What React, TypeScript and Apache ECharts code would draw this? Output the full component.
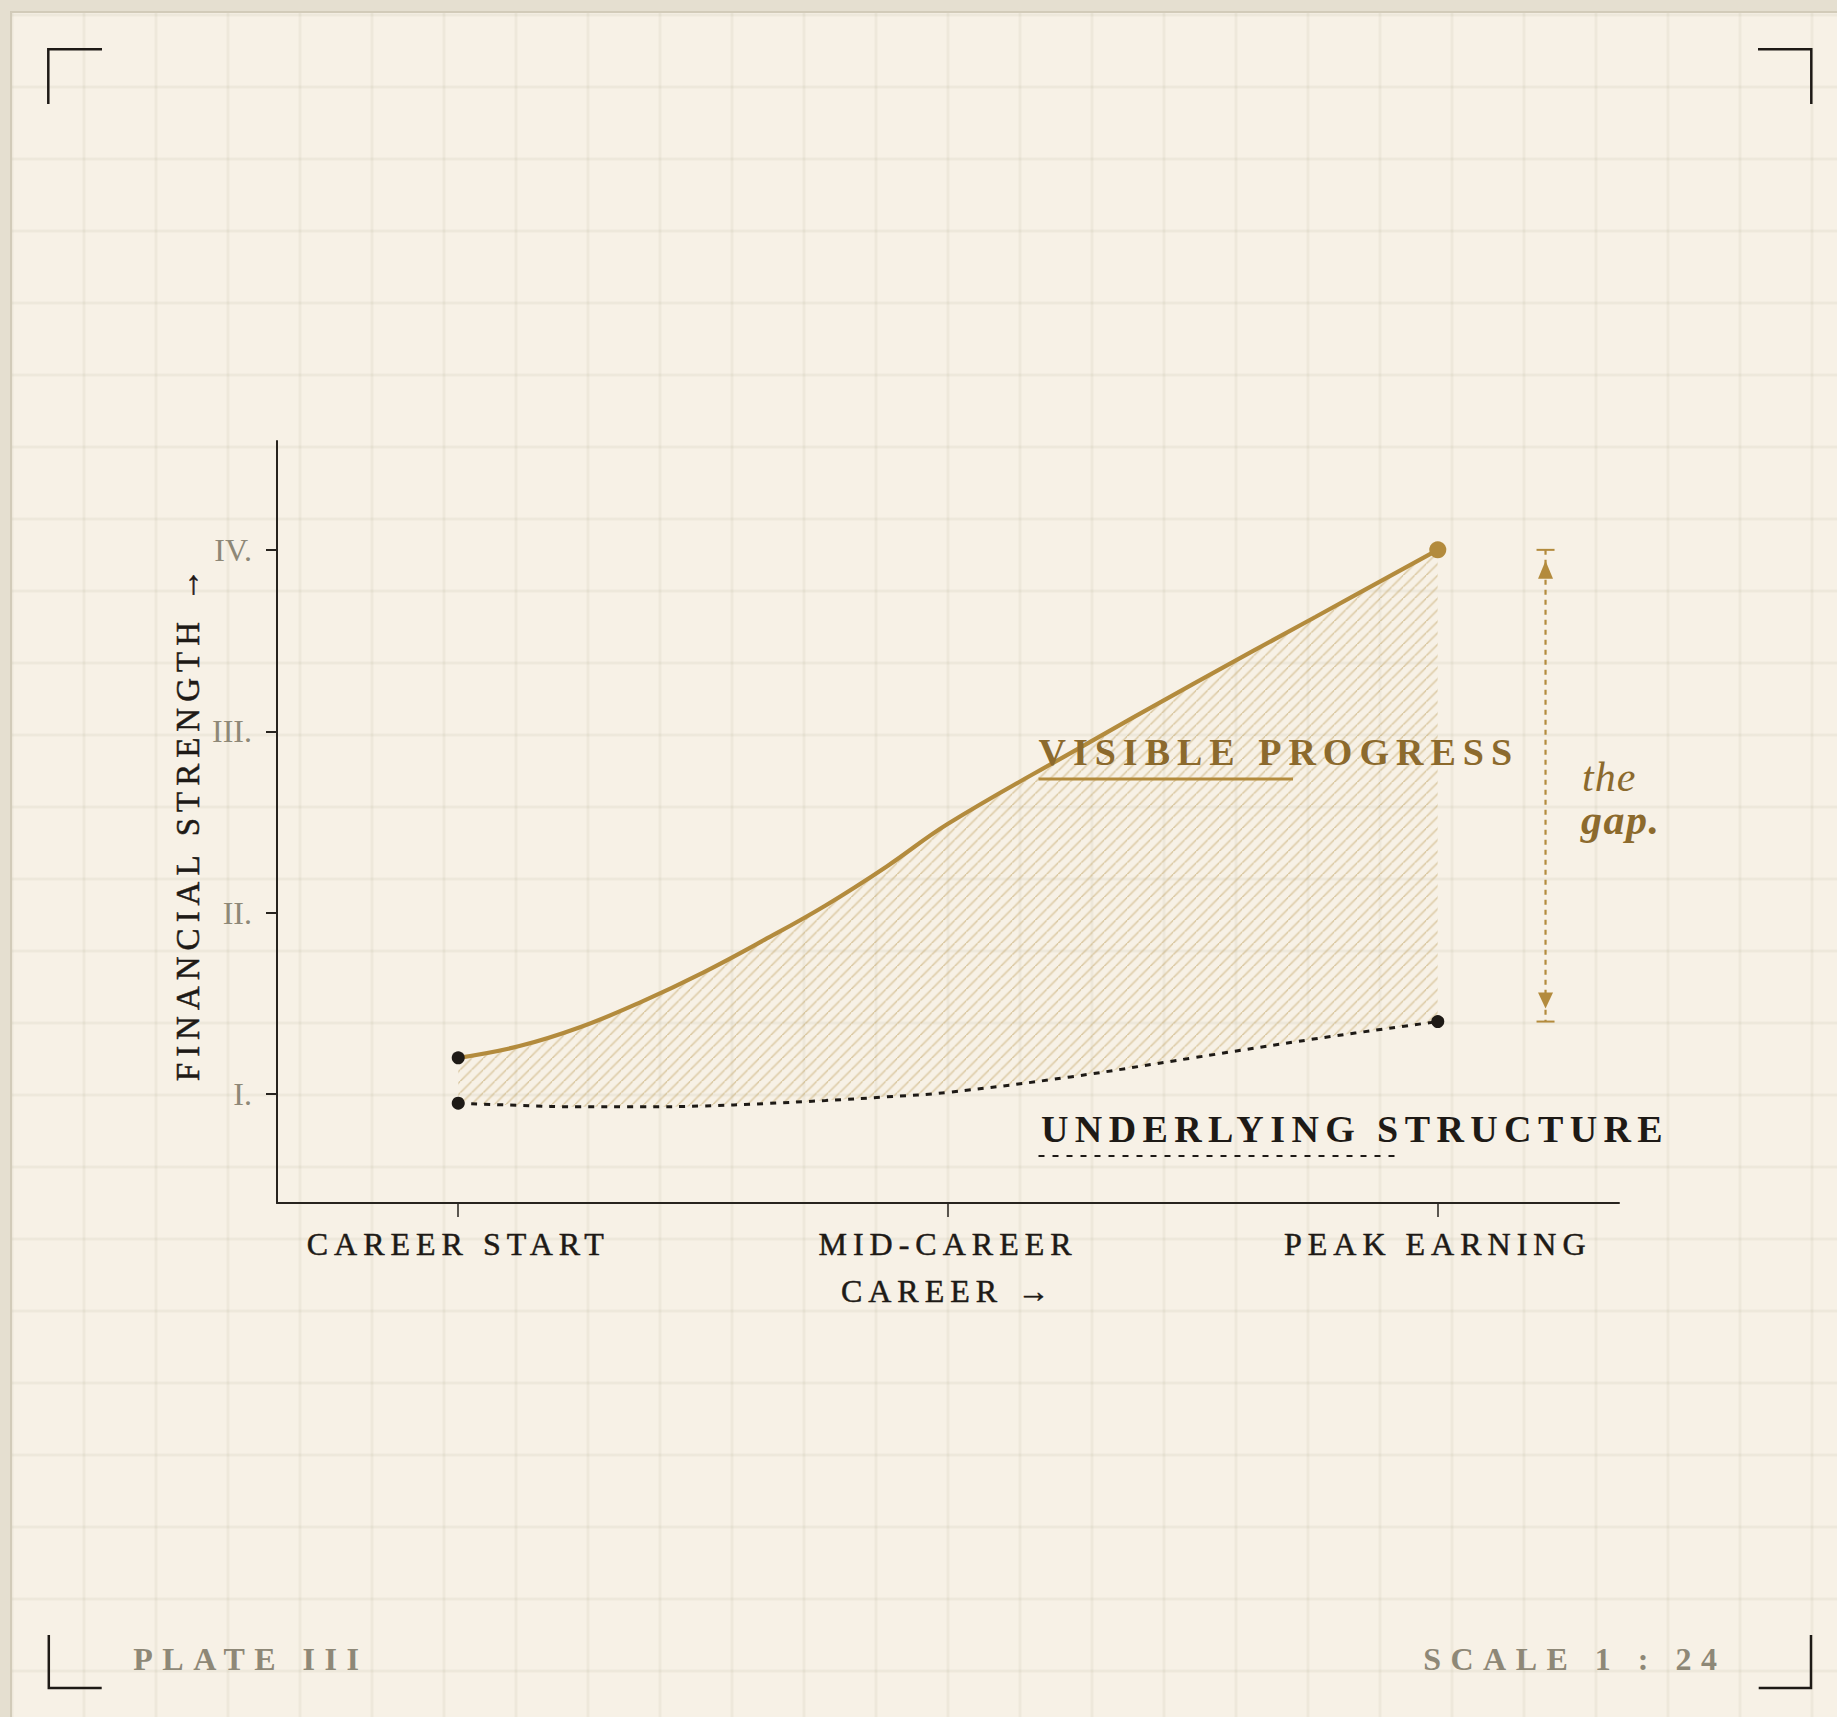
import React, { useEffect, useRef } from 'react';
import * as echarts from 'echarts';

// ---------- data ----------
const stages = ['CAREER START', 'MID-CAREER', 'PEAK EARNING'];
const stageTicks = [0, 1, 2];
const levelTicks = [1, 2, 3, 4];
const levelLabels = ['I.', 'II.', 'III.', 'IV.'];
const careerX = [0, 0.125, 0.25, 0.375, 0.5, 0.625, 0.75, 0.875, 1, 1.25, 1.5, 1.75, 2];
const visibleProgress = [1.2, 1.265, 1.37, 1.51, 1.67, 1.85, 2.04, 2.255, 2.49, 2.88, 3.26, 3.63, 4.0];
const underlyingStructure = [0.95, 0.938, 0.93, 0.93, 0.935, 0.948, 0.965, 0.985, 1.01, 1.095, 1.2, 1.305, 1.4];
const GAP_X = 2.22;

// ---------- style ----------
const W = 1837;
const H = 1717;
const SERIF = "'Liberation Serif', 'Times New Roman', serif";
const INK = '#1e1a16';
const AXIS = '#27231e';
const GOLD = '#b38b3d';
const GOLD_TEXT = '#8c6a2d';
const GREY = '#8e8877';
const HATCH = 11.5;
const SMOOTH = 0.4;

const letterSpacing: Record<string, number> = {
  'CAREER START': 6,
  'MID-CAREER': 6,
  'PEAK EARNING': 6,
  'CAREER →': 6,
  'FINANCIAL STRENGTH →': 6,
  'VISIBLE PROGRESS': 7,
  'UNDERLYING STRUCTURE': 6.4,
  'PLATE III': 9.5,
  'SCALE 1 : 24': 9.5,
  'gap.': 1.5,
  the: 1,
};

function makeHatch(size: number) {
  const c = document.createElement('canvas');
  c.width = size;
  c.height = size;
  const ctx = c.getContext('2d')!;
  ctx.strokeStyle = 'rgba(188,156,88,0.62)';
  ctx.lineWidth = 1.1;
  ctx.beginPath();
  ctx.moveTo(-2, size + 2);
  ctx.lineTo(size + 2, -2);
  ctx.moveTo(-2, 2);
  ctx.lineTo(2, -2);
  ctx.moveTo(size - 2, size + 2);
  ctx.lineTo(size + 2, size - 2);
  ctx.stroke();
  return c;
}

function textEl(text: string, x: number, baseline: number, fontSize: number, opts: any) {
  const y = baseline - 0.3375 * fontSize;
  const align = opts.align || 'left';
  return {
    type: 'text',
    x,
    y,
    z: 10,
    style: {
      text,
      fontSize,
      fontFamily: SERIF,
      fontWeight: opts.weight || 'normal',
      fontStyle: opts.style || 'normal',
      fill: opts.color,
      textAlign: align,
      textVerticalAlign: 'middle',
      align,
      verticalAlign: 'middle',
    },
  };
}

function corner(points: number[][]) {
  return {
    type: 'polyline',
    z: 10,
    shape: { points },
    style: { stroke: INK, lineWidth: 2.5, fill: 'none' },
  };
}

export default function App() {
  const ref = useRef<HTMLDivElement>(null);

  useEffect(() => {
    const el = ref.current!;
    const chart = echarts.init(el, null, { renderer: 'svg', width: W, height: H });
    const last = careerX.length - 1;
    // stacked series: value column first so that the stack applies to y
    const lowerData = careerX.map((x, i) => [underlyingStructure[i], x]);
    const bandData = careerX.map((x, i) => [visibleProgress[i] - underlyingStructure[i], x]);
    const upperData = careerX.map((x, i) => [x, visibleProgress[i]]);
    const hatch = makeHatch(HATCH);

    const option: any = {
      animation: false,
      backgroundColor: 'transparent',
      grid: { left: 277, right: 218, top: 441, bottom: 514, containLabel: false, outerBoundsMode: 'none' },
      xAxis: {
        type: 'value',
        min: -0.37,
        max: 2.37,
        name: 'CAREER →',
        nameLocation: 'middle',
        nameGap: 72,
        nameMoveOverlap: false,
        nameTextStyle: { fontFamily: SERIF, fontSize: 32, color: INK, textBorderColor: INK, textBorderWidth: 0.5 },
        axisLine: { show: true, onZero: false, lineStyle: { color: AXIS, width: 2 } },
        axisTick: { show: true, customValues: stageTicks, length: 14, lineStyle: { color: AXIS, width: 1.5 } },
        axisLabel: {
          show: true,
          customValues: stageTicks,
          formatter: (v: number) => stages[Math.round(v)] ?? '',
          margin: 25,
          fontFamily: SERIF,
          fontSize: 32,
          color: INK,
          textBorderColor: INK,
          textBorderWidth: 0.5,
        },
        splitLine: { show: false },
      },
      yAxis: {
        type: 'value',
        min: 0.4,
        max: 4.6,
        name: 'FINANCIAL STRENGTH →',
        nameLocation: 'middle',
        nameGap: 73,
        nameMoveOverlap: false,
        nameTextStyle: { fontFamily: SERIF, fontSize: 33, color: INK, textBorderColor: INK, textBorderWidth: 0.5 },
        axisLine: { show: true, onZero: false, lineStyle: { color: AXIS, width: 2 } },
        axisTick: { show: true, customValues: levelTicks, length: 11, lineStyle: { color: AXIS, width: 2 } },
        axisLabel: {
          show: true,
          customValues: levelTicks,
          formatter: (v: number) => levelLabels[Math.round(v) - 1] ?? '',
          margin: 25,
          padding: [0, 0, 11, 0],
          fontFamily: SERIF,
          fontSize: 32,
          color: GREY,
        },
        splitLine: { show: false },
      },
      series: [
        {
          type: 'line',
          name: 'Underlying structure',
          data: lowerData,
          encode: { x: 1, y: 0 },
          stack: 'gap',
          smooth: SMOOTH,
          symbol: 'none',
          z: 4,
          lineStyle: { color: INK, width: 3, type: [6, 7] },
        },
        {
          type: 'line',
          name: 'The gap',
          data: bandData,
          encode: { x: 1, y: 0 },
          stack: 'gap',
          smooth: SMOOTH,
          symbol: 'none',
          z: 2,
          lineStyle: { width: 0, opacity: 0 },
          areaStyle: {
            opacity: 1,
            color: { image: hatch, repeat: 'repeat', imageWidth: HATCH, imageHeight: HATCH },
          },
        },
        {
          type: 'line',
          name: 'Visible progress',
          data: upperData,
          smooth: SMOOTH,
          symbol: 'none',
          z: 5,
          lineStyle: { color: GOLD, width: 4.2 },
        },
        {
          type: 'scatter',
          name: 'Anchors',
          z: 6,
          symbolSize: 13,
          itemStyle: { color: INK, opacity: 1 },
          data: [
            [careerX[0], visibleProgress[0]],
            [careerX[0], underlyingStructure[0]],
            [careerX[last], underlyingStructure[last]],
          ],
        },
        {
          type: 'scatter',
          name: 'Peak',
          z: 6,
          symbolSize: 17,
          itemStyle: { color: GOLD, opacity: 1 },
          data: [[careerX[last], visibleProgress[last]]],
        },
        {
          type: 'custom',
          name: 'Gap marker',
          z: 6,
          encode: { x: 0, y: 1 },
          data: [[GAP_X, underlyingStructure[last], visibleProgress[last]]],
          renderItem: (_p: any, api: any) => {
            const x = api.value(0);
            const top = api.coord([x, api.value(2)]);
            const bot = api.coord([x, api.value(1)]);
            const cx = top[0];
            const st = { stroke: GOLD, lineWidth: 2 };
            return {
              type: 'group',
              children: [
                { type: 'line', shape: { x1: cx, y1: top[1], x2: cx, y2: bot[1] }, style: { stroke: GOLD, lineWidth: 2.2, lineDash: [5, 5] } },
                { type: 'line', shape: { x1: cx - 9, y1: top[1], x2: cx + 9, y2: top[1] }, style: st },
                { type: 'line', shape: { x1: cx - 9, y1: bot[1], x2: cx + 9, y2: bot[1] }, style: st },
                { type: 'polygon', shape: { points: [[cx, top[1] + 11], [cx - 7.5, top[1] + 29], [cx + 7.5, top[1] + 29]] }, style: { fill: GOLD } },
                { type: 'polygon', shape: { points: [[cx, bot[1] - 13], [cx - 7.5, bot[1] - 29], [cx + 7.5, bot[1] - 29]] }, style: { fill: GOLD } },
              ],
            };
          },
        },
      ],
      graphic: [
        corner([[102, 49.3], [48.3, 49.3], [48.3, 104]]),
        corner([[1758, 49.3], [1811.3, 49.3], [1811.3, 104]]),
        corner([[48.8, 1635], [48.8, 1688], [101.7, 1688]]),
        corner([[1758.7, 1688], [1811, 1688], [1811, 1635]]),
        textEl('VISIBLE PROGRESS', 1038.5, 765, 38, { weight: 'bold', color: GOLD_TEXT }),
        {
          type: 'line',
          z: 10,
          shape: { x1: 1038.5, y1: 779, x2: 1293, y2: 779 },
          style: { stroke: GOLD, lineWidth: 3 },
        },
        textEl('UNDERLYING STRUCTURE', 1041, 1142, 38, { weight: 'bold', color: INK }),
        {
          type: 'line',
          z: 10,
          shape: { x1: 1038.5, y1: 1156, x2: 1400, y2: 1156 },
          style: { stroke: INK, lineWidth: 2, lineDash: [6, 8] },
        },
        textEl('the', 1582, 791, 42, { style: 'italic', color: GOLD_TEXT }),
        textEl('gap.', 1581, 834, 42, { style: 'italic', weight: 'bold', color: GOLD_TEXT }),
        textEl('PLATE III', 133.3, 1670, 32, { weight: 'bold', color: GREY }),
        textEl('SCALE 1 : 24', 1726.5, 1670, 32, { weight: 'bold', color: GREY, align: 'right' }),
      ],
    };

    chart.setOption(option);

    const applySpacing = () => {
      el.querySelectorAll('text').forEach((t) => {
        const s = letterSpacing[(t.textContent || '').trim()];
        if (s != null) {
          t.setAttribute('letter-spacing', `${s}px`);
          (t as any).style.letterSpacing = `${s}px`;
        }
      });
    };
    applySpacing();
    const raf = requestAnimationFrame(applySpacing);
    const tm = setTimeout(applySpacing, 60);

    return () => {
      cancelAnimationFrame(raf);
      clearTimeout(tm);
      chart.dispose();
    };
  }, []);

  const gridColor = 'rgba(140,135,100,0.10)';
  const gridSoft = 'rgba(140,135,100,0.04)';
  const vLines = `linear-gradient(to right, ${gridSoft} 0px, ${gridColor} 1px, ${gridColor} 2px, ${gridSoft} 3px, transparent 3px)`;
  const hLines = `linear-gradient(to bottom, ${gridSoft} 0px, ${gridColor} 1px, ${gridColor} 2px, ${gridSoft} 3px, transparent 3px)`;

  return (
    <div
      style={{
        position: 'fixed',
        left: 0,
        top: 0,
        width: W,
        height: H,
        background: '#e5dfd0',
        overflow: 'hidden',
      }}
    >
      <div
        style={{
          position: 'absolute',
          left: 10,
          top: 11,
          width: 1900,
          height: 1800,
          backgroundColor: '#f7f1e6',
          borderTop: '2px solid #d2cbb9',
          borderLeft: '2px solid #d2cbb9',
          backgroundImage: `${vLines}, ${hLines}`,
          backgroundSize: '72px 72px, 72px 72px',
          backgroundPosition: '70.5px 0.5px, 70.5px 0.5px',
        }}
      />
      <div ref={ref} style={{ position: 'absolute', left: 0, top: 0, width: W, height: H }} />
    </div>
  );
}
